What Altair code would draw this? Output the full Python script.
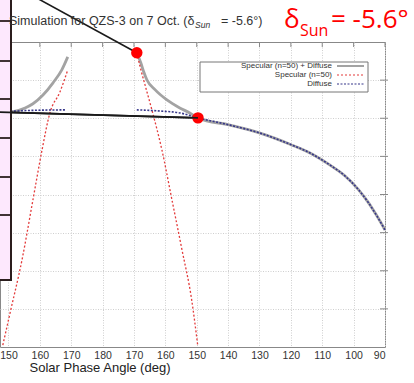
import altair as alt
import pandas as pd

# ---- data (x = position index, one unit per 10 deg; y = grid units) ----
x_labels = ["150", "160", "170", "180", "170", "160", "150", "140", "130", "120", "110", "100", "90"]
x_pos = list(range(13))
y_grid = [1, 2, 3, 4, 5, 6, 7]

gray_left_t = [-0.27, 0.11, 0.53, 0.78, 1.10, 1.42, 1.70, 1.89]
gray_left_y = [6.15, 6.17, 6.27, 6.38, 6.61, 6.93, 7.27, 7.61]
gray_right_t = [4.09, 4.22, 4.31, 4.41, 4.67, 5.05, 5.46, 5.78, 6.04]
gray_right_y = [7.72, 7.45, 7.22, 7.01, 6.75, 6.48, 6.27, 6.14, 6.01]
tail_t = [6.04, 7.06, 8.02, 8.97, 9.61, 10.25, 10.72, 11.14, 11.46, 11.74, 12.0]
tail_y = [6.01, 5.82, 5.61, 5.32, 5.09, 4.77, 4.49, 4.14, 3.80, 3.44, 3.07]

red_left_t = [1.89, 1.64, 1.32, 1.07, 0.78, 0.43, 0.05, -0.18]
red_left_y = [7.27, 6.69, 6.14, 5.17, 3.86, 2.28, 0.89, 0.05]
red_right_t = [4.12, 4.22, 4.35, 4.57, 4.89, 5.21, 5.53, 5.84, 6.03]
red_right_y = [7.61, 7.27, 6.88, 6.22, 5.17, 3.86, 2.55, 1.23, 0.05]

blue_left_t = [-0.27, 0.50, 1.80]
blue_left_y = [6.16, 6.20, 6.22]
blue_right_t = [4.09, 4.82, 5.46]
blue_right_y = [6.22, 6.19, 6.14]

dot_t = [4.09, 6.04]
dot_y = [7.72, 6.01]
callout1_t = [0.42, 4.09]
callout1_y = [9.37, 7.72]
callout2_t = [-0.27, 6.04]
callout2_y = [6.16, 6.01]

legend_names = ["Specular (n=50) + Diffuse", "Specular (n=50)", "Diffuse"]
title_main = "Simulation for QZS-3 on 7 Oct. (δ"
title_sub = "Sun"
title_end = "= -5.6°)"
axis_title = "Solar Phase Angle (deg)"
big_delta = "δ"
big_sub = "Sun"
big_end = "= -5.6°"

# ---- helpers ----
def seg_df(t, y, seg=0):
    return pd.DataFrame({"t": t, "y": y, "seg": [seg] * len(t)})

gray_df = pd.concat([seg_df(gray_left_t, gray_left_y, 0),
                     seg_df(gray_right_t + tail_t[1:], gray_right_y + tail_y[1:], 1)])
red_df = pd.concat([seg_df(red_left_t, red_left_y, 0), seg_df(red_right_t, red_right_y, 1)])
blue_df = pd.concat([seg_df(blue_left_t, blue_left_y, 0),
                     seg_df(blue_right_t + tail_t, blue_right_y + tail_y, 1)])
call_df = pd.concat([seg_df(callout1_t, callout1_y, 0), seg_df(callout2_t, callout2_y, 1)])
dots_df = pd.DataFrame({"t": dot_t, "y": dot_y})
xt_df = pd.DataFrame({"t": x_pos})
yt_df = pd.DataFrame({"y": y_grid})
one = pd.DataFrame({"k": [0]})

label_js = "[" + ",".join("'" + s + "'" for s in x_labels) + "]"
xs = alt.Scale(domain=[-0.27, 12], nice=False, zero=False)
ys = alt.Scale(domain=[0, 8], nice=False, zero=False)
x_axis = alt.Axis(values=x_pos, labelExpr=label_js + "[datum.value]", title=None,
                  labelFontSize=10.5, labelColor="#333", labelPadding=3, labelFont="Liberation Sans",
                  ticks=False, domain=False, grid=True, gridColor="#cfcfcf", gridDash=[1, 1.5])
y_axis = alt.Axis(values=y_grid, labels=False, ticks=False, domain=False, title=None,
                  grid=True, gridColor="#cfcfcf", gridDash=[1, 1.5])
X = alt.X("t:Q", scale=xs, axis=x_axis)
Y = alt.Y("y:Q", scale=ys, axis=y_axis)

layers = []
layers.append(alt.Chart(gray_df).mark_line(color="#a3a3a3", strokeWidth=2.8, interpolate="monotone").encode(x=X, y=Y, detail="seg:N"))
layers.append(alt.Chart(red_df).mark_line(color="#e33b3b", strokeWidth=1.3, strokeDash=[2, 2], interpolate="monotone").encode(x=X, y=Y, detail="seg:N"))
layers.append(alt.Chart(blue_df).mark_line(color="#37378a", strokeWidth=1.6, strokeDash=[2, 1.5], interpolate="monotone").encode(x=X, y=Y, detail="seg:N"))
# inner ticks at top and right
layers.append(alt.Chart(xt_df).mark_rule(color="#888", strokeWidth=1).encode(x=X, y=alt.value(0), y2=alt.value(5)))
layers.append(alt.Chart(yt_df).mark_rule(color="#888", strokeWidth=1).encode(y=Y, x=alt.value(380), x2=alt.value(388)))

# legend box
layers.append(alt.Chart(one).mark_rect(fill="white", stroke="#777", strokeWidth=1).encode(
    x=alt.value(200), x2=alt.value(368), y=alt.value(20), y2=alt.value(50)))
leg_styles = [("#a3a3a3", 2, []), ("#e33b3b", 1.2, [2, 2]), ("#37378a", 1.2, [2, 1.5])]
for i, (name, (col, sw, dash)) in enumerate(zip(legend_names, leg_styles)):
    yy = 24 + 9 * i
    layers.append(alt.Chart(one).mark_text(text=name, align="right", baseline="middle", fontSize=8,
                                           font="Liberation Sans", color="#333").encode(
        x=alt.value(332), y=alt.value(yy)))
    rule_kw = dict(color=col, strokeWidth=sw)
    if dash:
        rule_kw["strokeDash"] = dash
    layers.append(alt.Chart(one).mark_rule(**rule_kw).encode(
        x=alt.value(337), x2=alt.value(364), y=alt.value(yy), y2=alt.value(yy)))

# callouts
layers.append(alt.Chart(call_df).mark_line(color="#1a1a1a", strokeWidth=1.6, clip=False).encode(x=X, y=Y, detail="seg:N"))
layers.append(alt.Chart(dots_df).mark_point(filled=True, color="#ff0000", opacity=1, size=130, clip=False).encode(x=X, y=Y))

# pink box on the left
layers.append(alt.Chart(one).mark_rect(fill="#fde8fd", stroke="#2b1d1d", strokeWidth=2).encode(
    x=alt.value(-3), x2=alt.value(11), y=alt.value(-50), y2=alt.value(238)))
for py in [-21, 19, 57, 96, 135, 173]:
    layers.append(alt.Chart(one).mark_rule(color="#2b1d1d", strokeWidth=1.8).encode(
        x=alt.value(0), x2=alt.value(11), y=alt.value(py), y2=alt.value(py)))
layers.append(alt.Chart(call_df[call_df.seg == 1]).mark_line(color="#1a1a1a", strokeWidth=1.6, clip=False).encode(x=X, y=Y))

# titles
layers.append(alt.Chart(one).mark_text(text=title_main, align="left", baseline="alphabetic", fontSize=12.5,
                                       font="Liberation Sans", color="#333").encode(x=alt.value(9), y=alt.value(-17)))
layers.append(alt.Chart(one).mark_text(text=title_sub, align="left", baseline="alphabetic", fontSize=8.5,
                                       fontStyle="italic", font="Liberation Sans", color="#333").encode(x=alt.value(195), y=alt.value(-14)))
layers.append(alt.Chart(one).mark_text(text=title_end, align="left", baseline="alphabetic", fontSize=12.5,
                                       font="Liberation Sans", color="#333").encode(x=alt.value(221), y=alt.value(-17)))
layers.append(alt.Chart(one).mark_text(text=big_delta, align="left", baseline="alphabetic", fontSize=26,
                                       font="Open Sans", color="#ff0000").encode(x=alt.value(284), y=alt.value(-14)))
layers.append(alt.Chart(one).mark_text(text=big_sub, align="left", baseline="alphabetic", fontSize=16,
                                       font="Open Sans", color="#ff0000").encode(x=alt.value(300), y=alt.value(-6)))
layers.append(alt.Chart(one).mark_text(text=big_end, align="left", baseline="alphabetic", fontSize=26,
                                       font="Open Sans", color="#ff0000").encode(x=alt.value(331), y=alt.value(-14)))
layers.append(alt.Chart(one).mark_text(text=axis_title, align="center", baseline="alphabetic", fontSize=13,
                                       font="Liberation Sans", color="#222").encode(x=alt.value(100), y=alt.value(330)))

chart = alt.layer(*layers).properties(
    width=385, height=305, autosize="none",
    padding={"left": 0, "top": 42, "right": 29, "bottom": 36},
    background="white",
).configure_view(stroke="#888", strokeWidth=1)

chart.save("out.html", embed_options={"renderer": "svg", "actions": False})
